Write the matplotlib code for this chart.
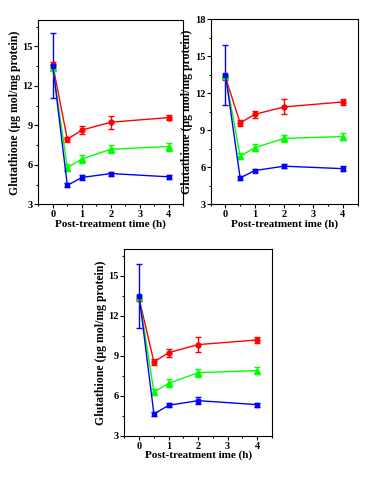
import numpy as np
import matplotlib
matplotlib.use('Agg')
import matplotlib.pyplot as plt
from matplotlib.ticker import MultipleLocator

plt.rcParams['font.family'] = ['Liberation Serif', 'DejaVu Serif']
plt.rcParams['font.weight'] = 'bold'

t = [0, 0.5, 1, 2, 4]

# panel 1
red1 = [13.6, 7.95, 8.65, 9.25, 9.6]
red1_err = [0.2, 0.2, 0.3, 0.5, 0.2]
green1 = [13.4, 5.8, 6.45, 7.2, 7.4]
green1_err = [0.2, 0.25, 0.3, 0.3, 0.3]
blue1 = [13.55, 4.45, 5.05, 5.35, 5.1]
blue1_err = [2.45, 0.15, 0.2, 0.15, 0.15]

# panel 2
red2 = [13.3, 9.6, 10.3, 10.9, 11.3]
red2_err = [0.2, 0.25, 0.3, 0.6, 0.25]
green2 = [13.4, 6.9, 7.6, 8.35, 8.5]
green2_err = [0.2, 0.25, 0.3, 0.3, 0.25]
blue2 = [13.5, 5.15, 5.75, 6.1, 5.9]
blue2_err = [2.45, 0.15, 0.15, 0.15, 0.2]

# panel 3
red3 = [13.3, 8.55, 9.25, 9.85, 10.2]
red3_err = [0.2, 0.2, 0.3, 0.55, 0.2]
green3 = [13.4, 6.3, 6.95, 7.75, 7.9]
green3_err = [0.2, 0.25, 0.3, 0.3, 0.25]
blue3 = [13.5, 4.65, 5.3, 5.65, 5.35]
blue3_err = [2.4, 0.15, 0.15, 0.25, 0.15]

ylabel = 'Glutathione (\u03bcg mol/mg protein)'

panels = [
    ([0.0997, 0.574, 0.378, 0.384], (3, 17), 'Post-treatment time (h)',
     red1, red1_err, green1, green1_err, blue1, blue1_err),
    ([0.549, 0.574, 0.382, 0.386], (3, 18), 'Post-treatment ime (h)',
     red2, red2_err, green2, green2_err, blue2, blue2_err),
    ([0.324, 0.0917, 0.384, 0.389], (3, 17), 'Post-treatment ime (h)',
     red3, red3_err, green3, green3_err, blue3, blue3_err),
]

fig = plt.figure(figsize=(3.84, 4.8), dpi=100)

for rect, ylim, xlab, r, re, g, ge, b, be in panels:
    ax = fig.add_axes(rect)
    ax.errorbar(t, r, yerr=re, color='#ff0000', marker='o', ms=3.5, lw=1,
                capsize=2, elinewidth=1)
    ax.errorbar(t, g, yerr=ge, color='#00ff00', marker='^', ms=4.5, lw=1,
                capsize=2, elinewidth=1)
    ax.errorbar(t, b, yerr=be, color='#0000ff', marker='s', ms=3.5, lw=1,
                capsize=2, elinewidth=1)
    ax.set_xlim(-0.5, 4.5)
    ax.set_ylim(*ylim)
    ax.xaxis.set_major_locator(MultipleLocator(1))
    ax.xaxis.set_minor_locator(MultipleLocator(0.5))
    ax.yaxis.set_major_locator(MultipleLocator(3))
    ax.yaxis.set_minor_locator(MultipleLocator(1.5))
    ax.tick_params(which='both', direction='out', labelsize=7.5, width=0.8)
    ax.tick_params(which='major', length=3, pad=1)
    ax.tick_params(which='minor', length=1.5)
    for s in ax.spines.values():
        s.set_linewidth(0.8)
    ax.set_ylabel(ylabel, fontsize=8.5, fontweight='bold', labelpad=1)
    ax.set_xlabel(xlab, fontsize=8, fontweight='bold', labelpad=0)

fig.savefig('out.png', dpi=100)
